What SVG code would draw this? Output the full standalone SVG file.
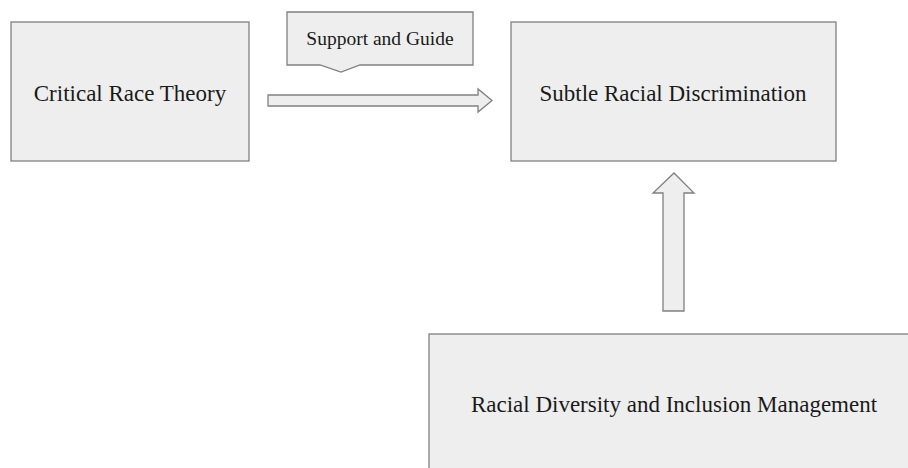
<svg xmlns="http://www.w3.org/2000/svg" width="908" height="468" viewBox="0 0 908 468">
<style>
.box{fill:#eeeeee;stroke:#808080;stroke-width:1.3}
.lbl{font-family:"Liberation Serif","Times New Roman",serif;font-size:23px;fill:#1a1a1a;text-anchor:middle}
.small{font-size:19.5px}
</style>
<rect width="908" height="468" fill="#ffffff"/>
<g id="critical-race-theory">
<rect class="box" x="11" y="22" width="238" height="139"/>
<text class="lbl" x="130" y="101">Critical Race Theory</text>
</g>
<g id="subtle-racial-discrimination">
<rect class="box" x="511" y="22" width="325" height="139"/>
<text class="lbl" x="673" y="101">Subtle Racial Discrimination</text>
</g>
<g id="racial-diversity">
<rect class="box" x="429" y="334" width="490" height="150"/>
<text class="lbl" x="674" y="412">Racial Diversity and Inclusion Management</text>
</g>
<g id="support-and-guide">
<path class="box" d="M287,12 H473 V65 H360 L341,72 L320,65 H287 Z"/>
<text class="lbl small" x="380" y="45">Support and Guide</text>
</g>
<g id="connectors">
<path class="box" d="M268,95 H478 V89 L492,100.5 L478,112 V106 H268 Z"/>
<path class="box" d="M663,311 V193 H653 L674,173 L694,193 H684 V311 Z"/>
</g>
</svg>
